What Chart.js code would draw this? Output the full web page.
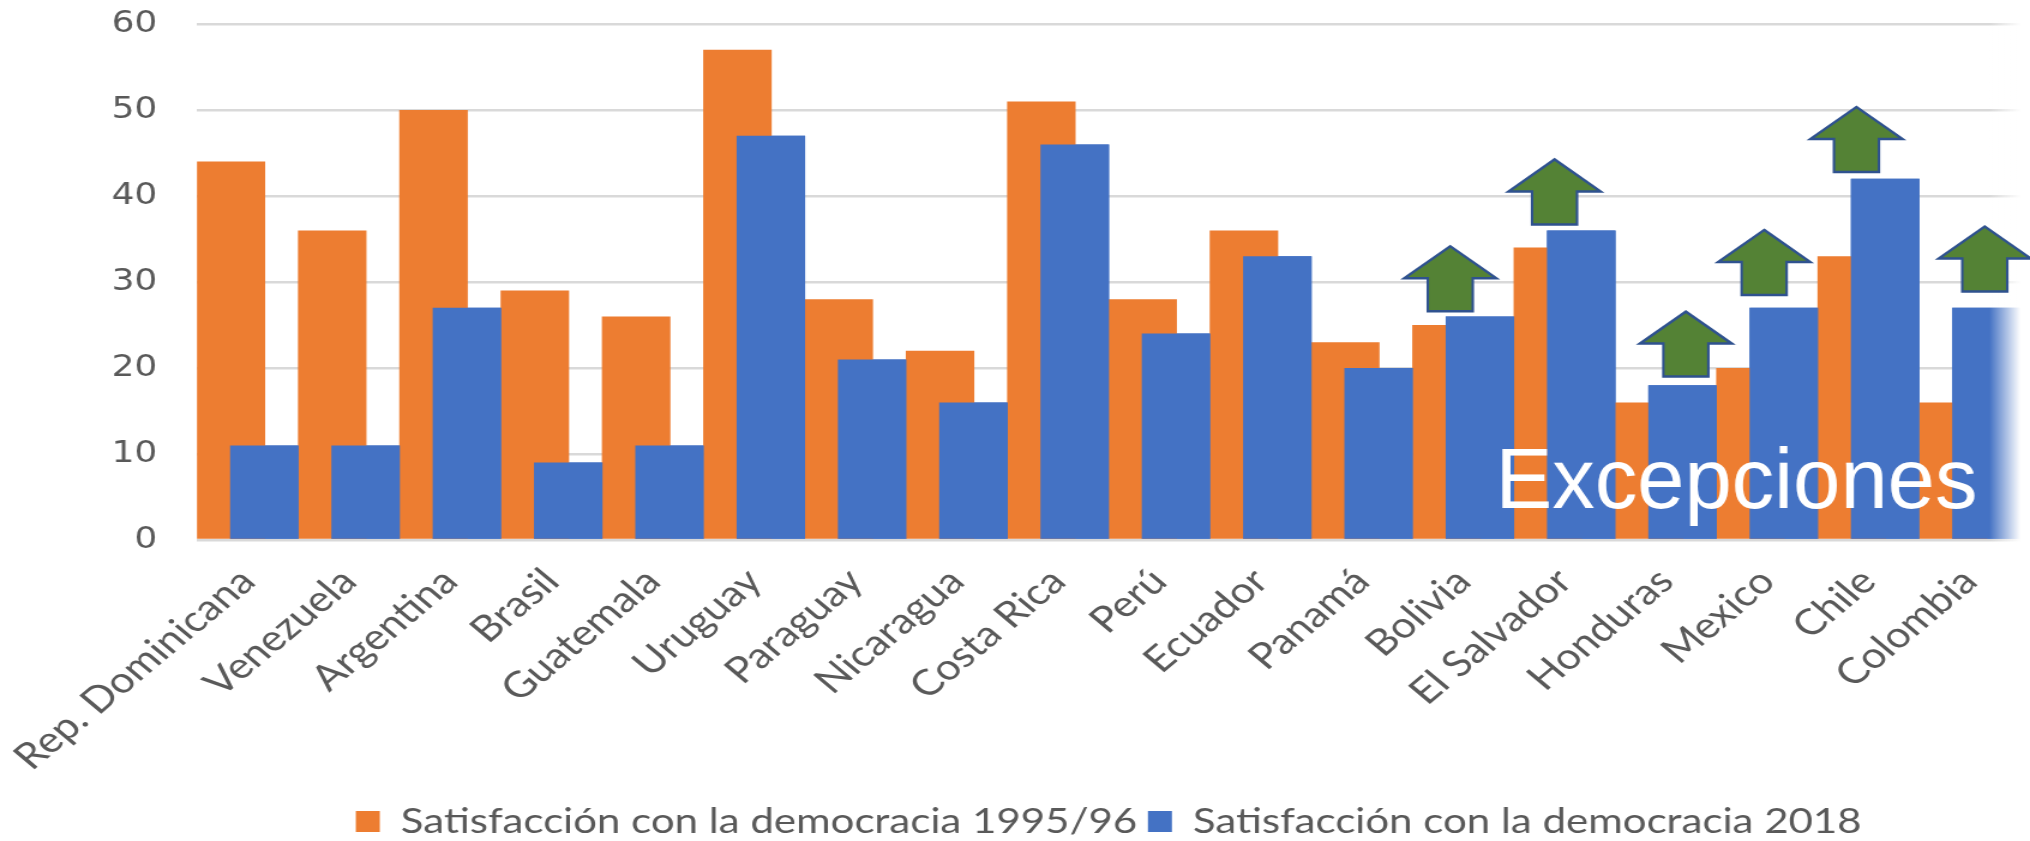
<!DOCTYPE html>
<html>
<head>
<meta charset="utf-8">
<script src="https://cdn.jsdelivr.net/npm/chart.js@4.4.1/dist/chart.umd.min.js"></script>
<style>
  html, body { margin: 0; padding: 0; background: #fff; overflow: hidden; }
  #wrap { width: 2030px; height: 841px; overflow: hidden; }
  #chart { display: block; transform-origin: 0 0; }
</style>
</head>
<body>
<div id="wrap"><canvas id="chart"></canvas></div>
<script>
const countries = [
  'Rep. Dominicana', 'Venezuela', 'Argentina', 'Brasil', 'Guatemala', 'Uruguay',
  'Paraguay', 'Nicaragua', 'Costa Rica', 'Perú', 'Ecuador', 'Panamá',
  'Bolivia', 'El Salvador', 'Honduras', 'Mexico', 'Chile', 'Colombia'
];
const sat1995 = [44, 36, 50, 29, 26, 57, 28, 22, 51, 28, 36, 23, 25, 34, 16, 20, 33, 16];
const sat2018 = [11, 11, 27, 9, 11, 47, 21, 16, 46, 24, 33, 20, 26, 36, 18, 27, 42, 27];
const seriesNames = ['Satisfacción con la democracia 1995/96', 'Satisfacción con la democracia 2018'];
const yTicks = [0, 10, 20, 30, 40, 50, 60];
const exceptions = ['Bolivia', 'El Salvador', 'Honduras', 'Mexico', 'Chile', 'Colombia'];
const exceptionsTitle = 'Excepciones';

// the original picture is stretched sideways, so draw narrow and widen with css
const W = 2030, H = 841;
const canvasW = Math.round(W / 1.2);
const k = W / canvasW;

const canvas = document.getElementById('chart');
canvas.width = canvasW;
canvas.height = H;
canvas.style.width = canvasW + 'px';
canvas.style.height = H + 'px';
canvas.style.transform = `scaleX(${k})`;

// arrow placement, screen px shift from category centre and lift above the blue bar
const arrowLayout = {
  'Bolivia': { dx: -13, lift: 0.6 },
  'El Salvador': { dx: -10, lift: 0.7 },
  'Honduras': { dx: 20, lift: 1.0 },
  'Mexico': { dx: -3, lift: 1.5 },
  'Chile': { dx: -12, lift: 0.8 },
  'Colombia': { dx: 15, lift: 1.9 }
};

const overlay = {
  id: 'overlay',
  afterDatasetsDraw(chart) {
    const ctx = chart.ctx;
    const area = chart.chartArea;
    const x = chart.scales.x;
    const y = chart.scales.y;

    // blue bars sit on top of the orange ones
    chart.getDatasetMeta(1).controller.draw();

    // soft fade on the right edge
    const fadeW = 26;
    const g = ctx.createLinearGradient(area.right - fadeW, 0, area.right, 0);
    g.addColorStop(0, 'rgba(255,255,255,0)');
    g.addColorStop(1, 'rgba(255,255,255,1)');
    ctx.save();
    ctx.fillStyle = g;
    ctx.fillRect(area.right - fadeW, area.top - 4, fadeW, area.bottom - area.top + 8);
    ctx.fillStyle = '#fff';
    ctx.fillRect(area.right, area.top - 4, chart.width - area.right, area.bottom - area.top + 8);
    ctx.restore();

    // from here on draw in screen px so shapes and text are not stretched
    ctx.save();
    ctx.scale(1 / k, 1);

    exceptions.forEach(name => {
      const i = countries.indexOf(name);
      const lay = arrowLayout[name];
      const cx = x.getPixelForValue(i) * k + lay.dx;
      const base = y.getPixelForValue(sat2018[i] + lay.lift);
      const headW = 46, shaftW = 22.5, headH = 32, shaftH = 33;
      ctx.beginPath();
      ctx.moveTo(cx, base - headH - shaftH);
      ctx.lineTo(cx + headW, base - shaftH);
      ctx.lineTo(cx + shaftW, base - shaftH);
      ctx.lineTo(cx + shaftW, base);
      ctx.lineTo(cx - shaftW, base);
      ctx.lineTo(cx - shaftW, base - shaftH);
      ctx.lineTo(cx - headW, base - shaftH);
      ctx.closePath();
      ctx.fillStyle = '#548235';
      ctx.fill();
      ctx.lineWidth = 2.5;
      ctx.lineJoin = 'miter';
      ctx.strokeStyle = '#2F528F';
      ctx.stroke();
    });

    ctx.font = '85px "Liberation Sans", Arial, sans-serif';
    ctx.fillStyle = '#ffffff';
    ctx.textAlign = 'right';
    ctx.textBaseline = 'alphabetic';
    ctx.fillText(exceptionsTitle, area.right * k - 43, y.getPixelForValue(0) - 32);
    ctx.restore();
  }
};

new Chart(canvas, {
  type: 'bar',
  data: {
    labels: countries,
    datasets: [
      {
        label: seriesNames[0],
        data: sat1995,
        backgroundColor: '#ED7D31',
        categoryPercentage: 0.66,
        barPercentage: 2.05
      },
      {
        label: seriesNames[1],
        data: sat2018,
        backgroundColor: '#4472C4',
        categoryPercentage: 0.66,
        barPercentage: 2.05
      }
    ]
  },
  options: {
    responsive: false,
    animation: false,
    devicePixelRatio: 1,
    layout: { padding: { left: 60, top: 0, right: 8, bottom: -8 } },
    plugins: {
      tooltip: { enabled: false },
      legend: {
        position: 'bottom',
        fullSize: false,
        labels: {
          boxWidth: 20,
          boxHeight: 21,
          padding: 9,
          color: '#595959',
          font: { family: 'Lato', size: 35 }
        }
      }
    },
    scales: {
      x: {
        grid: { display: false },
        border: { display: false },
        afterFit: axis => { axis.height = 255; },
        ticks: {
          autoSkip: false,
          minRotation: 45,
          maxRotation: 45,
          padding: 12,
          color: '#595959',
          font: { family: 'Lato', size: 36 }
        }
      },
      y: {
        min: yTicks[0],
        max: yTicks[yTicks.length - 1],
        afterBuildTicks: axis => { axis.ticks = yTicks.map(v => ({ value: v })); },
        // tick padding is only wanted sideways, not above the top label
        afterFit: axis => { axis.paddingTop = 24; axis.paddingBottom = 18; },
        grid: { color: '#d9d9d9', lineWidth: 2.5, drawTicks: false },
        border: { display: false },
        ticks: {
          padding: 33,
          color: '#595959',
          font: { family: 'DejaVu Sans', size: 30 }
        }
      }
    }
  },
  plugins: [overlay]
});
</script>
</body>
</html>
